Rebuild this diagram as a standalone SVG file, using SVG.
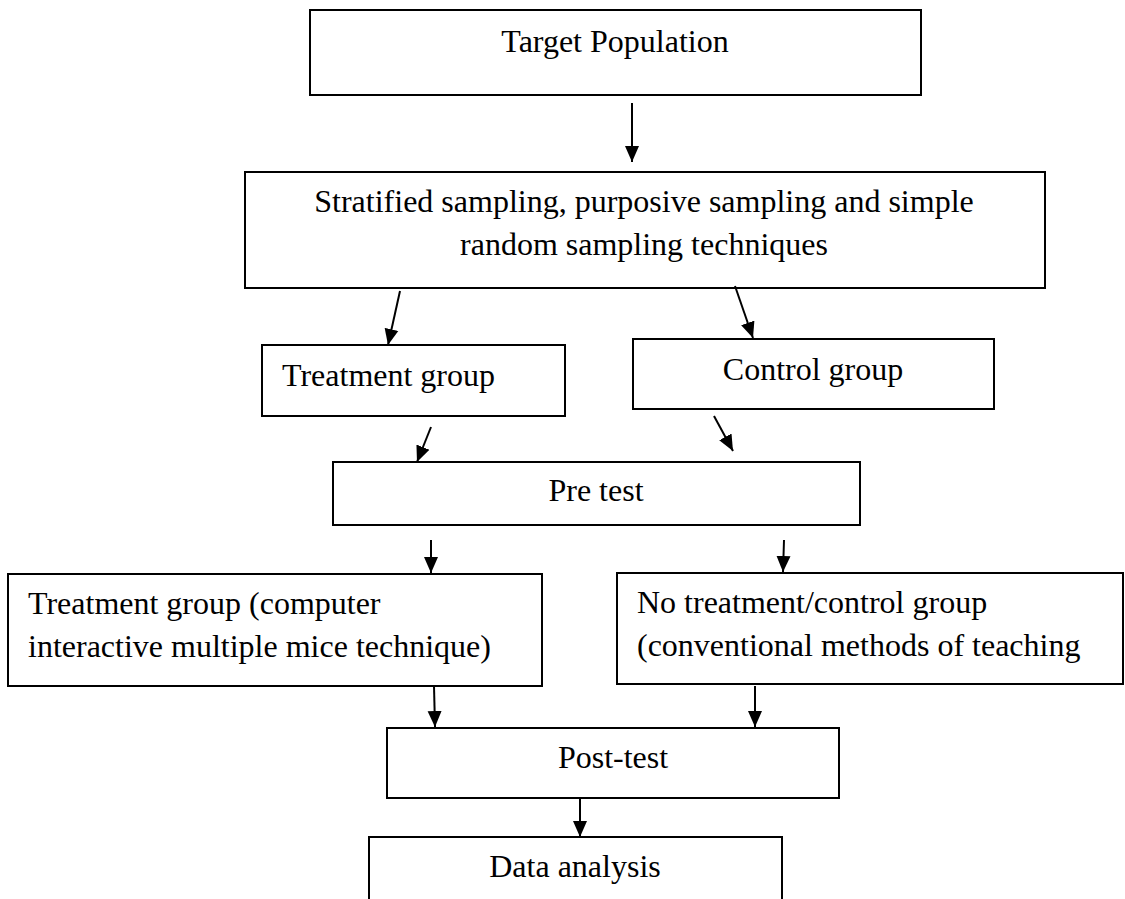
<svg xmlns="http://www.w3.org/2000/svg" width="1125" height="899" viewBox="0 0 1125 899">
<style>
.box{fill:#fff;stroke:#000;stroke-width:2}
.t{font-family:"Liberation Serif","Times New Roman",serif;font-size:32px;fill:#000}
.c{text-anchor:middle}
.a{stroke:#000;stroke-width:2;fill:none;marker-end:url(#ah)}
</style>
<defs>
<marker id="ah" markerUnits="userSpaceOnUse" markerWidth="17" markerHeight="16" refX="16" refY="8" orient="auto">
<path d="M0,1 L16,8 L0,15 Z" fill="#000"/>
</marker>
</defs>
<rect width="1125" height="899" fill="#fff"/>
<g id="target">
<rect class="box" x="310" y="10" width="611" height="85"/>
<text class="t c" x="615" y="52">Target Population</text>
</g>
<g id="sampling">
<rect class="box" x="245" y="172" width="800" height="116"/>
<text class="t c" x="644" y="212">Stratified sampling, purposive sampling and simple</text>
<text class="t c" x="644" y="255">random sampling techniques</text>
</g>
<g id="treatment">
<rect class="box" x="262" y="345" width="303" height="71"/>
<text class="t" x="282" y="386">Treatment group</text>
</g>
<g id="control">
<rect class="box" x="633" y="339" width="361" height="70"/>
<text class="t c" x="813" y="380">Control group</text>
</g>
<g id="pretest">
<rect class="box" x="333" y="462" width="527" height="63"/>
<text class="t c" x="596" y="501">Pre test</text>
</g>
<g id="treatment2">
<rect class="box" x="8" y="574" width="534" height="112"/>
<text class="t" x="28" y="614">Treatment group (computer</text>
<text class="t" x="28" y="657">interactive multiple mice technique)</text>
</g>
<g id="control2">
<rect class="box" x="617" y="573" width="506" height="111"/>
<text class="t" x="637" y="613">No treatment/control group</text>
<text class="t" x="637" y="656">(conventional methods of teaching</text>
</g>
<g id="posttest">
<rect class="box" x="387" y="728" width="452" height="70"/>
<text class="t c" x="613" y="768">Post-test</text>
</g>
<g id="analysis">
<rect class="box" x="369" y="837" width="413" height="90"/>
<text class="t c" x="575" y="877">Data analysis</text>
</g>
<g id="connectors">
<line class="a" x1="632" y1="103" x2="632" y2="162"/>
<line class="a" x1="400" y1="291" x2="388" y2="345"/>
<line class="a" x1="735" y1="286" x2="753" y2="338"/>
<line class="a" x1="431" y1="427" x2="417" y2="462"/>
<line class="a" x1="714" y1="416" x2="733" y2="451"/>
<line class="a" x1="431" y1="540" x2="431" y2="573"/>
<line class="a" x1="784" y1="540" x2="783" y2="572"/>
<line class="a" x1="434" y1="686" x2="435" y2="727"/>
<line class="a" x1="755" y1="686" x2="755" y2="727"/>
<line class="a" x1="580" y1="798" x2="580" y2="837"/>
</g>
</svg>
